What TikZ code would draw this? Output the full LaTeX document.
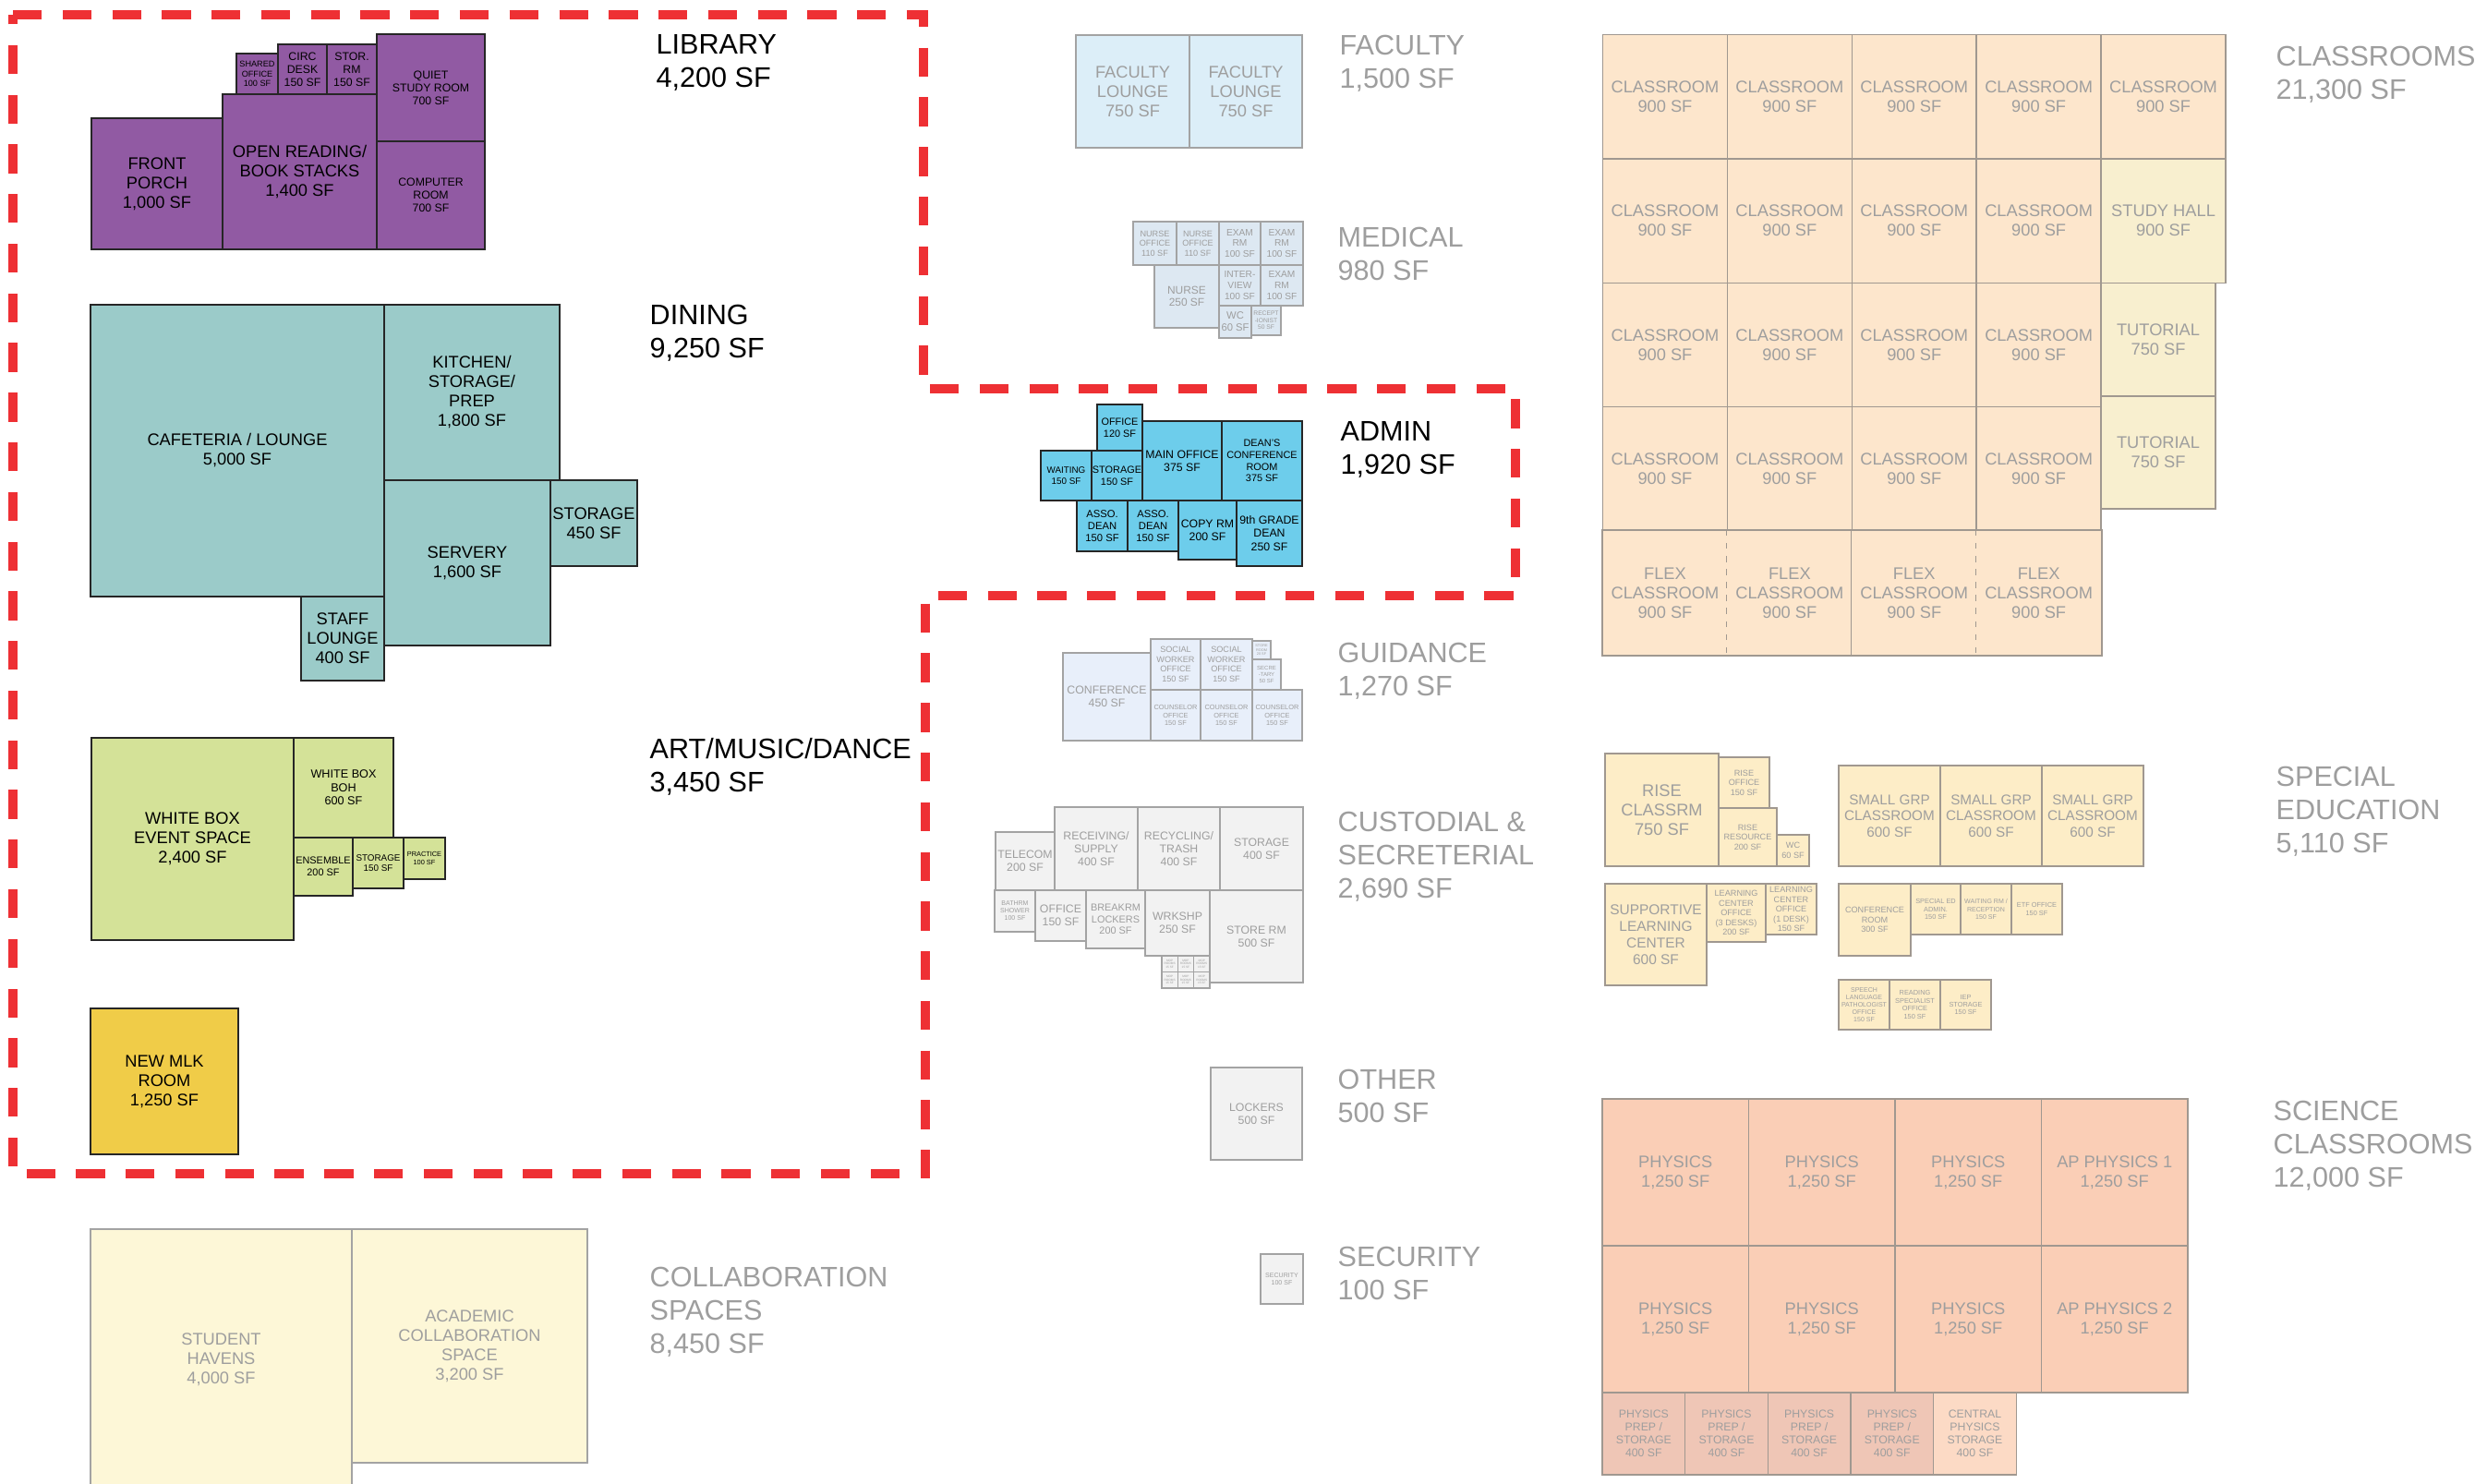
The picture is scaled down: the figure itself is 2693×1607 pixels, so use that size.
\documentclass[tikz,border=0pt]{standalone}
\usepackage{fontspec}
\setmainfont{Liberation Sans}
\usetikzlibrary{fit}

\definecolor{libc}{HTML}{915AA3}
\definecolor{dinec}{HTML}{9BCBC9}
\definecolor{artc}{HTML}{D4E298}
\definecolor{mlkc}{HTML}{F0CC48}
\definecolor{collc}{HTML}{FDF7D7}
\definecolor{facc}{HTML}{DCEEF8}
\definecolor{medc}{HTML}{DDE8F2}
\definecolor{admc}{HTML}{6DCDEB}
\definecolor{guic}{HTML}{E8EFFA}
\definecolor{cusc}{HTML}{F2F2F2}
\definecolor{clsc}{HTML}{FDE6CC}
\definecolor{tutc}{HTML}{F8EFCF}
\definecolor{spedc}{HTML}{FDEDC7}
\definecolor{scic}{HTML}{FACEB6}
\definecolor{prepc}{HTML}{EFC6B6}
\definecolor{cenc}{HTML}{FCDAC5}
\definecolor{dimtext}{HTML}{9E9E9E}
\definecolor{edgeg}{HTML}{A3A3A3}
\definecolor{clsline}{HTML}{A09890}
\definecolor{zonered}{HTML}{EE3034}

\tikzset{
  room/.style={rectangle, inner sep=0pt, line width=0.45pt},
  lib/.style={room, draw=black!85, fill=libc},
  dine/.style={room, draw=black!85, fill=dinec},
  art/.style={room, draw=black!85, fill=artc},
  mlk/.style={room, draw=black!85, fill=mlkc},
  adm/.style={room, draw=black!85, fill=admc},
  coll/.style={room, draw=edgeg, fill=collc},
  fac/.style={room, draw=edgeg, fill=facc},
  med/.style={room, draw=edgeg, fill=medc},
  gui/.style={room, draw=edgeg, fill=guic},
  cus/.style={room, draw=edgeg, fill=cusc},
  cls/.style={room, draw=clsline, fill=clsc},
  tut/.style={room, draw=clsline, fill=tutc},
  sped/.style={room, draw=clsline, fill=spedc},
  sci/.style={room, draw=clsline, fill=scic},
  prep/.style={room, draw=clsline, fill=prepc},
  cen/.style={room, draw=clsline, fill=cenc},
  clsedge/.style={draw=clsline, line width=0.45pt},
  txt/.style={align=center, inner sep=0pt},
  ink/.style={txt, text=black},
  dim/.style={txt, text=dimtext},
  fs/.style={font=\fontsize{#1}{1.15\dimexpr#1\relax}\selectfont},
  head/.style={anchor=north west, align=left, inner sep=0pt, font=\fontsize{8.7pt}{10.25pt}\selectfont},
  zone/.style={draw=zonered, line width=2.85pt, dash pattern=on 8.9pt off 6.4pt}
}

\begin{document}
\begin{tikzpicture}[x=0.1mm, y=-0.1mm]
  \useasboundingbox (0,0) rectangle (2693,1607);

  % Library
  \node[lib, fit={(99,128) (241,270)}, label={[ink, fs=5.2pt]center:{FRONT\\PORCH\\1,000 SF}}] (porch) {};
  \node[lib, fit={(241,102) (408,270)}, label={[ink, fs=5.2pt]center:{OPEN READING/\\BOOK STACKS\\1,400 SF}}] (openrd) {};
  \node[lib, fit={(256,58) (301,102)}, label={[ink, fs=2.6pt]center:{SHARED\\OFFICE\\100 SF}}] (shared) {};
  \node[lib, fit={(301,48) (354,102)}, label={[ink, fs=3.5pt]center:{CIRC\\DESK\\150 SF}}] (circ) {};
  \node[lib, fit={(354,48) (408,102)}, label={[ink, fs=3.5pt]center:{STOR.\\RM\\150 SF}}] (storrm) {};
  \node[lib, fit={(408,37) (525,153)}, label={[ink, fs=3.5pt]center:{QUIET\\STUDY ROOM\\700 SF}}] (quiet) {};
  \node[lib, fit={(408,153) (525,270)}, label={[ink, fs=3.5pt]center:{COMPUTER\\ROOM\\700 SF}}] (comp) {};

  % Dining
  \node[dine, fit={(98,330) (416,646)}, label={[ink, fs=5.2pt]center:{CAFETERIA / LOUNGE\\5,000 SF}}] (cafe) {};
  \node[dine, fit={(416,330) (606,520)}, label={[ink, fs=5.2pt]center:{KITCHEN/\\STORAGE/\\PREP\\1,800 SF}}] (kitchen) {};
  \node[dine, fit={(416,520) (596,699)}, label={[ink, fs=5.2pt]center:{SERVERY\\1,600 SF}}] (servery) {};
  \node[dine, fit={(596,520) (690,613)}, label={[ink, fs=5.2pt]center:{STORAGE\\450 SF}}] (dstor) {};
  \node[dine, fit={(326,646) (416,737)}, label={[ink, fs=5.2pt]center:{STAFF\\LOUNGE\\400 SF}}] (staff) {};

  % Art / music / dance
  \node[art, fit={(99,799) (318,1018)}, label={[ink, fs=5.2pt]center:{WHITE BOX\\EVENT SPACE\\2,400 SF}}] (event) {};
  \node[art, fit={(318,799) (426,907)}, label={[ink, fs=3.6pt]center:{WHITE BOX\\BOH\\600 SF}}] (boh) {};
  \node[art, fit={(318,907) (382,970)}, label={[ink, fs=3.1pt]center:{ENSEMBLE\\200 SF}}] (ensemble) {};
  \node[art, fit={(382,907) (437,962)}, label={[ink, fs=2.8pt]center:{STORAGE\\150 SF}}] (astor) {};
  \node[art, fit={(437,907) (482,952)}, label={[ink, fs=2.1pt]center:{PRACTICE\\100 SF}}] (practice) {};

  \node[mlk, fit={(98,1092) (258,1250)}, label={[ink, fs=5.2pt]center:{NEW MLK\\ROOM\\1,250 SF}}] (mlk) {};

  % Collaboration
  \node[coll, fit={(98,1331) (381,1614)}, label={[dim, fs=5.2pt]center:{STUDENT\\HAVENS\\4,000 SF}}] (havens) {};
  \node[coll, fit={(381,1331) (636,1584)}, label={[dim, fs=5.2pt]center:{ACADEMIC\\COLLABORATION\\SPACE\\3,200 SF}}] (academic) {};

  % Faculty
  \node[fac, fit={(1165,38) (1288,160)}, label={[dim, fs=5.2pt]center:{FACULTY\\LOUNGE\\750 SF}}] (fl1) {};
  \node[fac, fit={(1288,38) (1410,160)}, label={[dim, fs=5.2pt]center:{FACULTY\\LOUNGE\\750 SF}}] (fl2) {};

  % Medical
  \node[med, fit={(1227,240) (1274,287)}, label={[dim, fs=2.6pt]center:{NURSE\\OFFICE\\110 SF}}] (noff1) {};
  \node[med, fit={(1274,240) (1320,287)}, label={[dim, fs=2.6pt]center:{NURSE\\OFFICE\\110 SF}}] (noff2) {};
  \node[med, fit={(1320,240) (1365,287)}, label={[dim, fs=2.9pt]center:{EXAM\\RM\\100 SF}}] (exam1) {};
  \node[med, fit={(1365,240) (1411,287)}, label={[dim, fs=2.9pt]center:{EXAM\\RM\\100 SF}}] (exam2) {};
  \node[med, fit={(1250,287) (1320,355)}, label={[dim, fs=3.4pt]center:{NURSE\\250 SF}}] (nurse) {};
  \node[med, fit={(1320,287) (1365,331)}, label={[dim, fs=2.9pt]center:{INTER-\\VIEW\\100 SF}}] (interview) {};
  \node[med, fit={(1365,287) (1411,331)}, label={[dim, fs=2.9pt]center:{EXAM\\RM\\100 SF}}] (exam3) {};
  \node[med, fit={(1320,331) (1355,366)}, label={[dim, fs=3.2pt]center:{WC\\60 SF}}] (mwc) {};
  \node[med, fit={(1355,331) (1387,363)}, label={[dim, fs=1.9pt]center:{RECEPT\\-IONIST\\50 SF}}] (recep) {};

  % Admin
  \node[adm, fit={(1188,438) (1237,488)}, label={[ink, fs=3.1pt]center:{OFFICE\\120 SF}}] (aoffice) {};
  \node[adm, fit={(1127,488) (1182,542)}, label={[ink, fs=2.8pt]center:{WAITING\\150 SF}}] (waiting) {};
  \node[adm, fit={(1182,488) (1237,542)}, label={[ink, fs=3.1pt]center:{STORAGE\\150 SF}}] (admstor) {};
  \node[adm, fit={(1237,456) (1323,542)}, label={[ink, fs=3.5pt]center:{MAIN OFFICE\\375 SF}}] (mainoff) {};
  \node[adm, fit={(1323,456) (1410,542)}, label={[ink, fs=3.1pt]center:{DEAN'S\\CONFERENCE\\ROOM\\375 SF}}] (deanconf) {};
  \node[adm, fit={(1166,542) (1221,597)}, label={[ink, fs=3.2pt]center:{ASSO.\\DEAN\\150 SF}}] (asso1) {};
  \node[adm, fit={(1221,542) (1276,597)}, label={[ink, fs=3.2pt]center:{ASSO.\\DEAN\\150 SF}}] (asso2) {};
  \node[adm, fit={(1276,542) (1339,606)}, label={[ink, fs=3.5pt]center:{COPY RM\\200 SF}}] (copyrm) {};
  \node[adm, fit={(1339,542) (1410,613)}, label={[ink, fs=3.5pt]center:{9th GRADE\\DEAN\\250 SF}}] (ninth) {};

  % Guidance
  \node[gui, fit={(1151,707) (1246,802)}, label={[dim, fs=3.5pt]center:{CONFERENCE\\450 SF}}] (gconf) {};
  \node[gui, fit={(1246,692) (1300,747)}, label={[dim, fs=2.6pt]center:{SOCIAL\\WORKER\\OFFICE\\150 SF}}] (social1) {};
  \node[gui, fit={(1300,692) (1356,747)}, label={[dim, fs=2.6pt]center:{SOCIAL\\WORKER\\OFFICE\\150 SF}}] (social2) {};
  \node[gui, fit={(1356,694) (1376,714)}, label={[dim, fs=1.1pt]center:{STORE\\ROOM\\20 SF}}] (gstore) {};
  \node[gui, fit={(1356,714) (1387,747)}, label={[dim, fs=1.7pt]center:{SECRE\\-TARY\\50 SF}}] (secr) {};
  \node[gui, fit={(1246,747) (1300,802)}, label={[dim, fs=2.1pt]center:{COUNSELOR\\OFFICE\\150 SF}}] (couns1) {};
  \node[gui, fit={(1300,747) (1356,802)}, label={[dim, fs=2.1pt]center:{COUNSELOR\\OFFICE\\150 SF}}] (couns2) {};
  \node[gui, fit={(1356,747) (1410,802)}, label={[dim, fs=2.1pt]center:{COUNSELOR\\OFFICE\\150 SF}}] (couns3) {};

  % Custodial
  \node[cus, fit={(1078,901) (1142,964)}, label={[dim, fs=3.5pt]center:{TELECOM\\200 SF}}] (telecom) {};
  \node[cus, fit={(1142,874) (1232,964)}, label={[dim, fs=3.5pt]center:{RECEIVING/\\SUPPLY\\400 SF}}] (receiving) {};
  \node[cus, fit={(1232,874) (1321,964)}, label={[dim, fs=3.5pt]center:{RECYCLING/\\TRASH\\400 SF}}] (recycling) {};
  \node[cus, fit={(1321,874) (1411,964)}, label={[dim, fs=3.5pt]center:{STORAGE\\400 SF}}] (cstor) {};
  \node[cus, fit={(1077,964) (1121,1009)}, label={[dim, fs=2.0pt]center:{BATHRM\\SHOWER\\100 SF}}] (bathrm) {};
  \node[cus, fit={(1121,964) (1176,1019)}, label={[dim, fs=3.5pt]center:{OFFICE\\150 SF}}] (coffice) {};
  \node[cus, fit={(1176,964) (1240,1027)}, label={[dim, fs=3.1pt]center:{BREAKRM\\LOCKERS\\200 SF}}] (breakrm) {};
  \node[cus, fit={(1240,964) (1310,1035)}, label={[dim, fs=3.5pt]center:{WRKSHP\\250 SF}}] (wrkshp) {};
  \node[cus, fit={(1310,964) (1411,1064)}, label={[dim, fs=3.5pt]center:{STORE RM\\500 SF}}] (storerm) {};
  \foreach \i in {0,1,2}
    \foreach \j in {0,1}
      \node[cus, fit={({1258+17.3*\i},{1035+17.5*\j}) ({1275.3+17.3*\i},{1052.5+17.5*\j})}, label={[dim, fs=0.9pt]center:{MOP\\ROOMS\\15 SF}}] (mop\i\j) {};

  % Other, security
  \node[cus, fit={(1311,1156) (1410,1256)}, label={[dim, fs=3.5pt]center:{LOCKERS\\500 SF}}] (lockers) {};
  \node[cus, fit={(1365,1358) (1411,1412)}, label={[dim, fs=2.0pt]center:{SECURITY\\100 SF}}] (security) {};

  % Classrooms
  \foreach \c in {0,...,4}
    \node[cls, fit={({1735.5+134.9*\c},37.7) ({1870.4+134.9*\c},172)}, label={[dim, fs=5.2pt]center:{CLASSROOM\\900 SF}}] (cr0\c) {};
  \foreach \r in {1,2,3}
    \foreach \c in {0,...,3}
      \node[cls, fit={({1735.5+134.9*\c},{37.7+134.3*\r}) ({1870.4+134.9*\c},{172+134.3*\r})}, label={[dim, fs=5.2pt]center:{CLASSROOM\\900 SF}}] (cr\r\c) {};
  \node[tut, fit={(2275.1,172) (2410,306.3)}, label={[dim, fs=5.2pt]center:{STUDY HALL\\900 SF}}] (studyhall) {};
  \node[tut, fit={(2275.1,306.3) (2399,429)}, label={[dim, fs=5.2pt]center:{TUTORIAL\\750 SF}}] (tut1) {};
  \node[tut, fit={(2275.1,429) (2399,551)}, label={[dim, fs=5.2pt]center:{TUTORIAL\\750 SF}}] (tut2) {};
  \foreach \c in {0,...,3}
    \node[cls, draw=none, fit={({1735.5+134.9*\c},574.9) ({1870.4+134.9*\c},709.2)}, label={[dim, fs=5.2pt]center:{FLEX\\CLASSROOM\\900 SF}}] (fx\c) {};
  \draw[clsedge] (fx0.north west) rectangle (fx3.south east);
  \draw[clsedge] (fx2.north west) -- (fx2.south west);
  \draw[clsedge, dash pattern=on 1.8pt off 2.2pt] (fx1.north west) -- (fx1.south west);
  \draw[clsedge, dash pattern=on 1.8pt off 2.2pt] (fx3.north west) -- (fx3.south west);

  % Special education
  \node[sped, fit={(1738,816) (1861,938)}, label={[dim, fs=5.2pt]center:{RISE\\CLASSRM\\750 SF}}] (rise) {};
  \node[sped, fit={(1861,820) (1916,875)}, label={[dim, fs=2.6pt]center:{RISE\\OFFICE\\150 SF}}] (riseoff) {};
  \node[sped, fit={(1861,875) (1924,938)}, label={[dim, fs=2.6pt]center:{RISE\\RESOURCE\\200 SF}}] (riseres) {};
  \node[sped, fit={(1924,904) (1959,938)}, label={[dim, fs=2.6pt]center:{WC\\60 SF}}] (swc) {};
  \node[sped, fit={(1738,957) (1848,1067)}, label={[dim, fs=4.4pt]center:{SUPPORTIVE\\LEARNING\\CENTER\\600 SF}}] (slc) {};
  \node[sped, fit={(1848,957) (1912,1020)}, label={[dim, fs=2.6pt]center:{LEARNING\\CENTER\\OFFICE\\(3 DESKS)\\200 SF}}] (lc3) {};
  \node[sped, fit={(1912,957) (1967,1012)}, label={[dim, fs=2.6pt]center:{LEARNING\\CENTER\\OFFICE\\(1 DESK)\\150 SF}}] (lc1) {};
  \node[sped, fit={(1991,829) (2101,938)}, label={[dim, fs=4.35pt]center:{SMALL GRP\\CLASSROOM\\600 SF}}] (sg1) {};
  \node[sped, fit={(2101,829) (2211,938)}, label={[dim, fs=4.35pt]center:{SMALL GRP\\CLASSROOM\\600 SF}}] (sg2) {};
  \node[sped, fit={(2211,829) (2321,938)}, label={[dim, fs=4.35pt]center:{SMALL GRP\\CLASSROOM\\600 SF}}] (sg3) {};
  \node[sped, fit={(1991,957) (2069,1035)}, label={[dim, fs=2.6pt]center:{CONFERENCE\\ROOM\\300 SF}}] (sconf) {};
  \node[sped, fit={(2069,957) (2123,1012)}, label={[dim, fs=2.1pt]center:{SPECIAL ED\\ADMIN.\\150 SF}}] (sadmin) {};
  \node[sped, fit={(2123,957) (2178,1012)}, label={[dim, fs=2.0pt]center:{WAITING RM /\\RECEPTION\\150 SF}}] (swait) {};
  \node[sped, fit={(2178,957) (2233,1012)}, label={[dim, fs=2.1pt]center:{ETF OFFICE\\150 SF}}] (etf) {};
  \node[sped, fit={(1991,1061) (2046,1115)}, label={[dim, fs=2.0pt]center:{SPEECH\\LANGUAGE\\PATHOLOGIST\\OFFICE\\150 SF}}] (speech) {};
  \node[sped, fit={(2046,1061) (2101,1115)}, label={[dim, fs=2.1pt]center:{READING\\SPECIALIST\\OFFICE\\150 SF}}] (reading) {};
  \node[sped, fit={(2101,1061) (2156,1115)}, label={[dim, fs=2.1pt]center:{IEP\\STORAGE\\150 SF}}] (iep) {};

  % Science
  \foreach \r/\ap in {0/1,1/2} {
    \foreach \c in {0,1,2}
      \node[sci, fit={({1735+158.5*\c},{1190+159*\r}) ({1893.5+158.5*\c},{1349+159*\r})}, label={[dim, fs=5.2pt]center:{PHYSICS\\1,250 SF}}] (ph\r\c) {};
    \node[sci, fit={(2210.5,{1190+159*\r}) (2369,{1349+159*\r})}, label={[dim, fs=5.2pt]center:{AP PHYSICS \ap\\1,250 SF}}] (ph\r3) {};
  }
  \foreach \c in {0,...,3}
    \node[prep, fit={({1735+89.65*\c},1508) ({1824.65+89.65*\c},1597)}, label={[dim, fs=3.5pt]center:{PHYSICS\\PREP /\\STORAGE\\400 SF}}] (prep\c) {};
  \node[cen, fit={(2093.6,1508) (2183.3,1597)}, label={[dim, fs=3.5pt]center:{CENTRAL\\PHYSICS\\STORAGE\\400 SF}}] (central) {};

  % Zone outline
  \draw[zone] (14,16) -- (1000,16) -- (1000,421) -- (1641,421) -- (1641,645) -- (1002,645) -- (1002,1271) -- (14,1271) -- cycle;

  % Section titles
  \node[head] (libhd) at (710,37) {LIBRARY\\4,200 SF};
  \node[head] (dinehd) at (703,329) {DINING\\9,250 SF};
  \node[head] (arthd) at (703,799) {ART/MUSIC/DANCE\\3,450 SF};
  \node[head, text=dimtext] (collhd) at (703,1371) {COLLABORATION\\SPACES\\8,450 SF};
  \node[head, text=dimtext] (fachd) at (1450,37) {FACULTY\\1,500 SF};
  \node[head, text=dimtext] (medhd) at (1448,245) {MEDICAL\\980 SF};
  \node[head] (admhd) at (1451,456) {ADMIN\\1,920 SF};
  \node[head, text=dimtext] (guihd) at (1448,695) {GUIDANCE\\1,270 SF};
  \node[head, text=dimtext] (cushd) at (1448,878) {CUSTODIAL \&\\SECRETERIAL\\2,690 SF};
  \node[head, text=dimtext] (othhd) at (1448,1157) {OTHER\\500 SF};
  \node[head, text=dimtext] (sechd) at (1448,1349) {SECURITY\\100 SF};
  \node[head, text=dimtext] (clshd) at (2464,49) {CLASSROOMS\\21,300 SF};
  \node[head, text=dimtext] (spedhd) at (2464,829) {SPECIAL\\EDUCATION\\5,110 SF};
  \node[head, text=dimtext] (scihd) at (2461,1191) {SCIENCE\\CLASSROOMS\\12,000 SF};
\end{tikzpicture}
\end{document}
